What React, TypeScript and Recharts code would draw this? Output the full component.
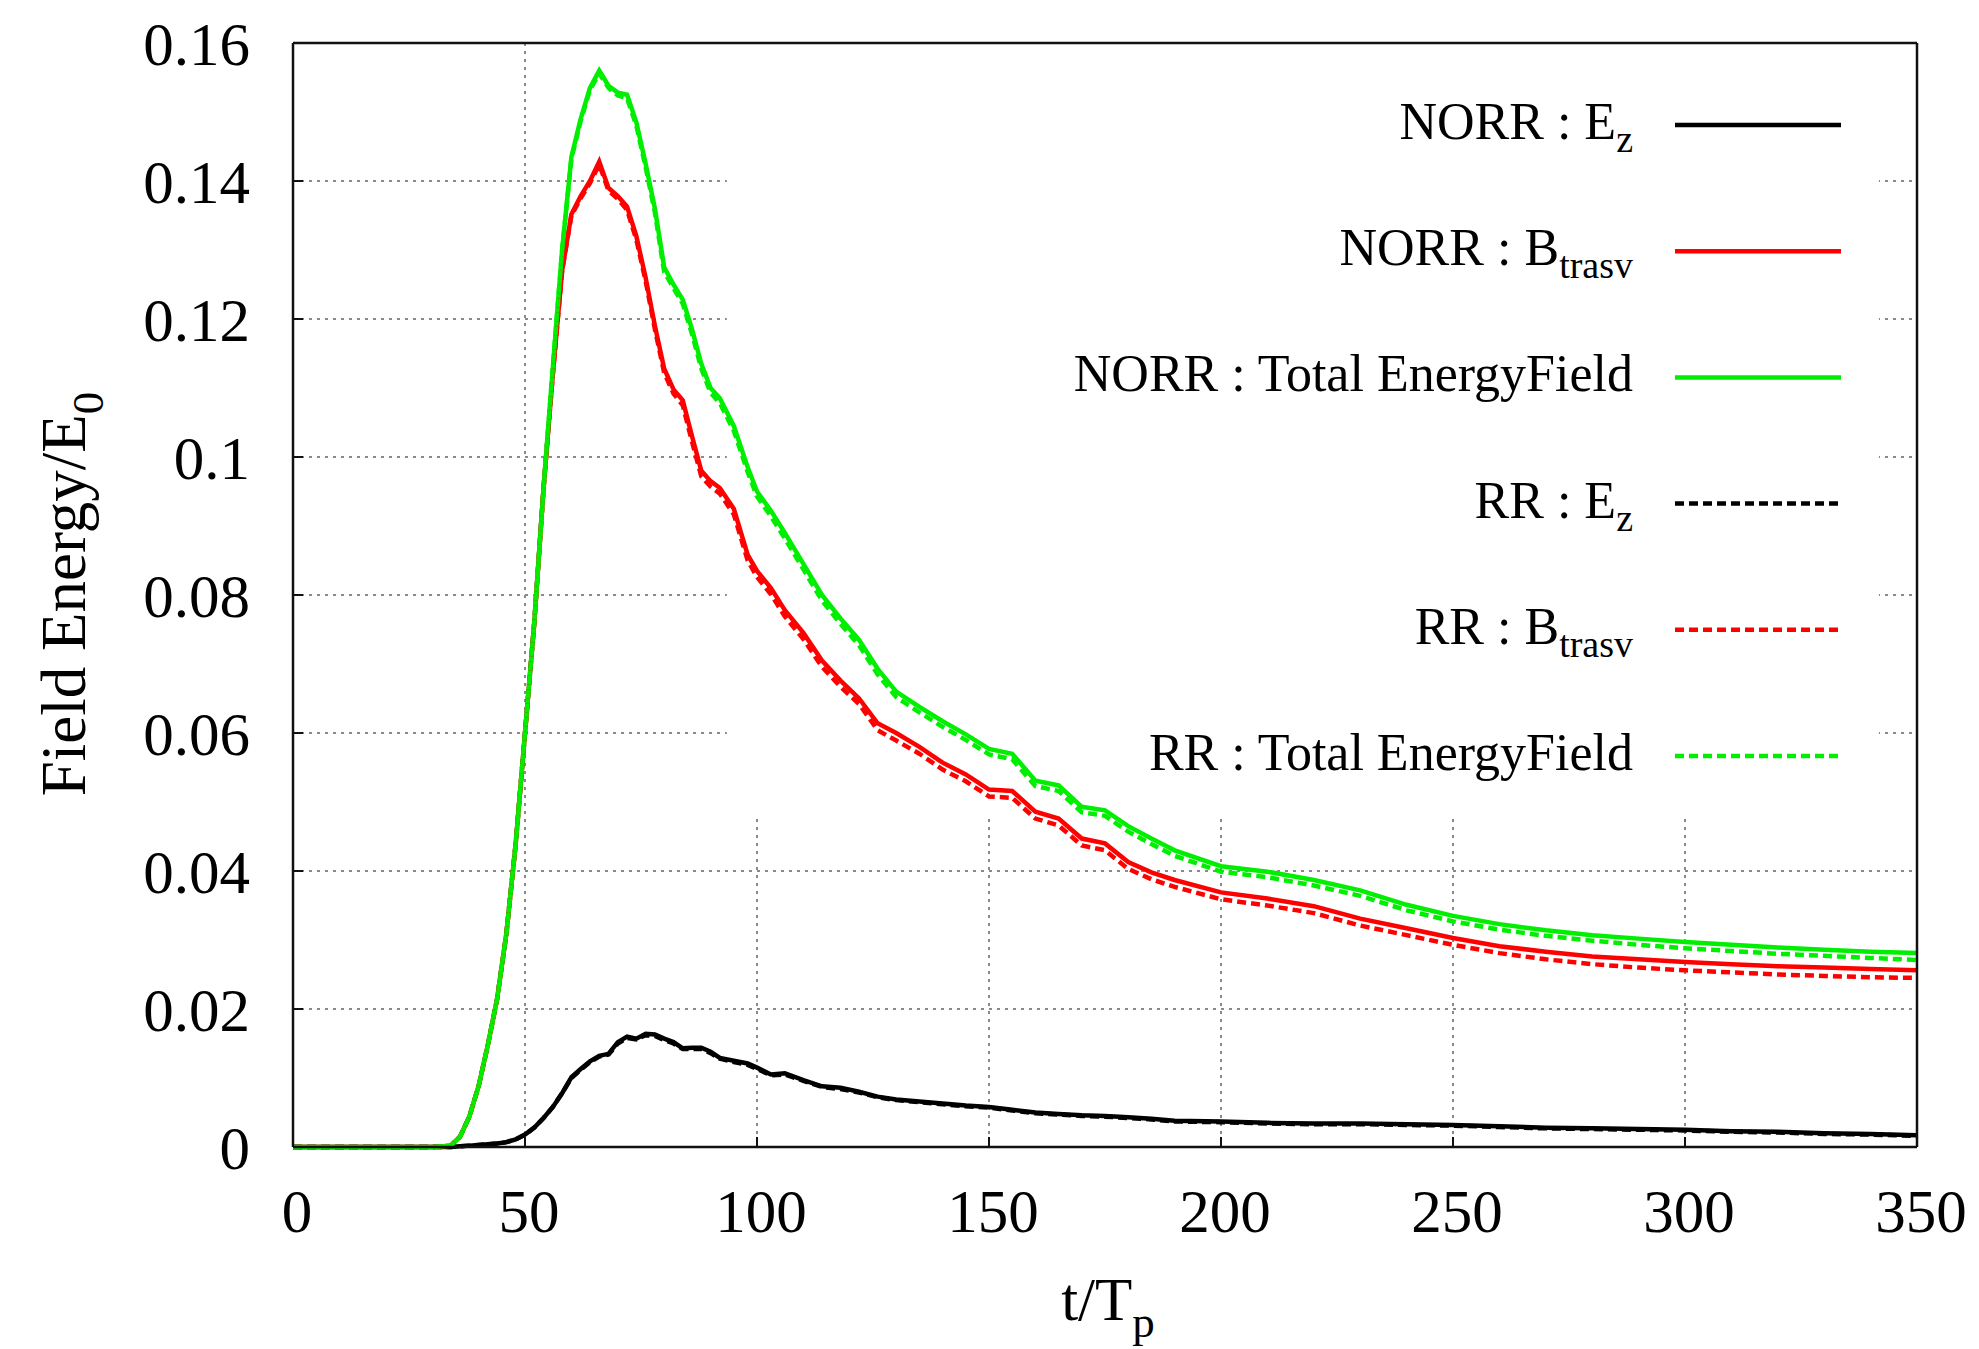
import React from "react";
import {
  CartesianGrid,
  Legend,
  Line,
  LineChart,
  ReferenceArea,
  XAxis,
  YAxis,
} from "recharts";

const FONT = "'Liberation Serif', 'DejaVu Serif', serif";

// t/Tp sample positions
const T = [
  0, 30, 34, 36, 38,
  40, 42, 44, 46, 48, 50, 52, 54, 56, 58, 60, 62, 64, 66, 68, 70, 72, 74, 76, 78, 80, 82, 84, 86, 88, 90, 92,
  95, 98, 100, 103, 106, 110, 114, 118, 122, 126, 130,
  135, 140, 145, 150, 155, 160, 165, 170, 175, 180, 185, 190,
  200, 210, 220, 230, 240, 250, 260, 270, 280, 290, 300, 310, 320, 330, 340, 350,
];

const EZ_NORR = [
  0, 0, 0, 0.0001, 0.0002,
  0.0003, 0.0004, 0.0005, 0.0007, 0.0011, 0.0018, 0.0028, 0.0042, 0.0058, 0.0078, 0.0101, 0.0113, 0.0124, 0.0132, 0.0135, 0.0152, 0.016, 0.0157, 0.0164, 0.0163, 0.0157, 0.0152, 0.0143, 0.0144, 0.0144, 0.0138, 0.0129,
  0.0125, 0.0121, 0.0115, 0.0105, 0.0107, 0.0097, 0.0088, 0.0086, 0.008, 0.0073, 0.0069,
  0.0066, 0.0063, 0.006, 0.0058, 0.0054, 0.005, 0.0048, 0.0046, 0.0045, 0.0043, 0.0041, 0.0038,
  0.0037, 0.0035, 0.0034, 0.0034, 0.0033, 0.0032, 0.003, 0.0028, 0.0027, 0.0026, 0.0025, 0.0023, 0.0022, 0.002, 0.0019, 0.0017,
];

const B_NORR = [
  0, 0, 0.0002, 0.0015, 0.0044,
  0.0088, 0.0148, 0.0215, 0.031, 0.044, 0.06, 0.076, 0.0955, 0.112, 0.127, 0.1352, 0.1378, 0.14, 0.1428, 0.139, 0.1378, 0.1363, 0.132, 0.126, 0.119, 0.1128, 0.1098, 0.1082, 0.103, 0.098, 0.0965, 0.0955,
  0.0925, 0.0858, 0.0835, 0.081, 0.0778, 0.0745, 0.0705, 0.0676, 0.065, 0.0614, 0.06,
  0.058, 0.0557, 0.054, 0.0518, 0.0516, 0.0486, 0.0476, 0.0447, 0.044, 0.0413, 0.0398, 0.0387,
  0.0369, 0.036, 0.0349, 0.0331, 0.0317, 0.0303, 0.0291, 0.0283, 0.0276, 0.0272, 0.0268, 0.0265, 0.0262, 0.026, 0.0258, 0.0256,
];

const TOT_NORR = [
  0, 0, 0.0002, 0.0015, 0.0044,
  0.0088, 0.0148, 0.0215, 0.031, 0.044, 0.06, 0.076, 0.0955, 0.113, 0.13, 0.1435, 0.149, 0.1535, 0.156, 0.1538, 0.1528, 0.1525, 0.1485, 0.1425, 0.136, 0.1275, 0.125, 0.1228, 0.1185, 0.1135, 0.11, 0.1085,
  0.1045, 0.0985, 0.095, 0.0922, 0.089, 0.0845, 0.08, 0.0766, 0.0735, 0.0693, 0.066,
  0.0638, 0.0617, 0.0598, 0.0577, 0.057, 0.0531, 0.0524, 0.0493, 0.0488, 0.0465, 0.0447, 0.043,
  0.0407, 0.0399, 0.0387, 0.0372, 0.0351, 0.0335, 0.0323, 0.0314, 0.0307, 0.0302, 0.0297, 0.0293, 0.0289, 0.0286, 0.0283, 0.0281,
];

const EZ_RR = [
  0, 0, 0, 0.0001, 0.0002,
  0.0003, 0.0004, 0.0005, 0.0007, 0.0011, 0.0018, 0.0028, 0.0042, 0.0058, 0.0078, 0.01, 0.0112, 0.0123, 0.0131, 0.0134, 0.015, 0.0158, 0.0156, 0.0162, 0.0161, 0.0155, 0.015, 0.0142, 0.0142, 0.0142, 0.0136, 0.0128,
  0.0123, 0.0119, 0.0113, 0.0104, 0.0105, 0.0096, 0.0087, 0.0084, 0.0079, 0.0072, 0.0068,
  0.0065, 0.0062, 0.0059, 0.0057, 0.0053, 0.0049, 0.0047, 0.0045, 0.0044, 0.0042, 0.004, 0.0037,
  0.0036, 0.0034, 0.0033, 0.0033, 0.0032, 0.0031, 0.0029, 0.0027, 0.0026, 0.0025, 0.0024, 0.0022, 0.0021, 0.0019, 0.0018, 0.0016,
];

const B_RR = [
  0, 0, 0.0002, 0.0015, 0.0044,
  0.0088, 0.0148, 0.0215, 0.031, 0.044, 0.06, 0.076, 0.0955, 0.112, 0.127, 0.135, 0.1375, 0.1397, 0.1424, 0.1386, 0.1374, 0.1358, 0.1315, 0.1255, 0.1185, 0.1122, 0.1092, 0.1075, 0.1022, 0.0972, 0.0957, 0.0947,
  0.0917, 0.085, 0.0826, 0.0801, 0.0769, 0.0736, 0.0696, 0.0667, 0.0642, 0.0604, 0.0589,
  0.057, 0.0547, 0.053, 0.0508, 0.0506, 0.0476, 0.0466, 0.0437, 0.043, 0.0403, 0.0388, 0.0377,
  0.0359, 0.035, 0.0339, 0.0321, 0.0307, 0.0293, 0.0281, 0.0272, 0.0265, 0.026, 0.0256, 0.0253, 0.025, 0.0248, 0.0246, 0.0245,
];

const TOT_RR = [
  0, 0, 0.0002, 0.0015, 0.0044,
  0.0088, 0.0148, 0.0215, 0.031, 0.044, 0.06, 0.076, 0.0955, 0.113, 0.13, 0.1432, 0.1487, 0.1532, 0.1556, 0.1535, 0.1524, 0.152, 0.148, 0.142, 0.1354, 0.1268, 0.1245, 0.1222, 0.1178, 0.1128, 0.1093, 0.1078,
  0.1038, 0.0978, 0.0943, 0.0914, 0.0882, 0.0837, 0.0792, 0.0758, 0.0727, 0.0685, 0.0652,
  0.063, 0.0609, 0.059, 0.0569, 0.0562, 0.0523, 0.0516, 0.0485, 0.048, 0.0457, 0.0439, 0.0422,
  0.0399, 0.0391, 0.0379, 0.0364, 0.0343, 0.0327, 0.0315, 0.0306, 0.0299, 0.0293, 0.0288, 0.0284, 0.028, 0.0277, 0.0274, 0.0271,
];

const X_TICKS = [0, 50, 100, 150, 200, 250, 300, 350];
const Y_TICKS = [0, 0.02, 0.04, 0.06, 0.08, 0.1, 0.12, 0.14, 0.16];

const RED = "#ff0000";
const GREEN = "#00ee00";
const BLACK = "#000000";
const DASH = "9 5";

// gnuplot-style key: label, subscript, colour, dashed
const SERIES = [
  { key: "ezN", name: "NORR : E", sub: "z", color: BLACK, dashed: false },
  { key: "bN", name: "NORR : B", sub: "trasv", color: RED, dashed: false },
  { key: "totN", name: "NORR : Total EnergyField", sub: "", color: GREEN, dashed: false },
  { key: "ezR", name: "RR : E", sub: "z", color: BLACK, dashed: true },
  { key: "bR", name: "RR : B", sub: "trasv", color: RED, dashed: true },
  { key: "totR", name: "RR : Total EnergyField", sub: "", color: GREEN, dashed: true },
];

const rows = T.map((t, i) => ({
  t,
  ezN: EZ_NORR[i],
  bN: B_NORR[i],
  totN: TOT_NORR[i],
  ezR: EZ_RR[i],
  bR: B_RR[i],
  totR: TOT_RR[i],
}));

const W = 1979;
const H = 1349;

function KeyBox() {
  return (
    <svg width={W} height={H} style={{ position: "absolute", left: 0, top: 0 }}>
      {SERIES.map((s, i) => {
        const y = 125 + i * 126.2;
        return (
          <g key={s.key}>
            <text x={1633} y={y + 14} textAnchor="end" fontSize={52} fontFamily={FONT} fill="#000">
              {s.name}
              {s.sub ? (
                <tspan fontSize={38} dy={13}>
                  {s.sub}
                </tspan>
              ) : null}
            </text>
            <line
              x1={1675}
              x2={1841}
              y1={y}
              y2={y}
              stroke={s.color}
              strokeWidth={4.5}
              strokeDasharray={s.dashed ? DASH : undefined}
            />
          </g>
        );
      })}
    </svg>
  );
}

function XTitle(props: any) {
  const vb = props.viewBox;
  return (
    <text
      x={vb.x + vb.width / 2 + 3}
      y={1320}
      textAnchor="middle"
      fontSize={61}
      fontFamily={FONT}
      fill="#000"
    >
      t/T
      <tspan fontSize={45} dy={17}>
        p
      </tspan>
    </text>
  );
}

function YTitle() {
  const cx = 85;
  const cy = 594;
  return (
    <text
      x={cx}
      y={cy}
      textAnchor="middle"
      fontSize={63}
      fontFamily={FONT}
      fill="#000"
      transform={`rotate(-90, ${cx}, ${cy})`}
    >
      Field Energy/E
      <tspan fontSize={45} dy={18}>
        0
      </tspan>
    </text>
  );
}

export default function App() {
  const tickStyle = { fontSize: 61, fill: "#000", fontFamily: FONT };
  const border = { stroke: "#111", strokeWidth: 2.5 };
  return (
    <div style={{ position: "absolute", left: 0, top: 0, width: W, height: H, background: "#fff" }}>
      <LineChart
        width={W}
        height={H}
        data={rows}
        margin={{ top: 42, right: 61, bottom: 0, left: 0 }}
        style={{ fontFamily: FONT }}
      >
        <CartesianGrid stroke="#8a8a8a" strokeWidth={2} strokeDasharray="3 5" />
        {/* opaque key box hides the grid behind it */}
        <ReferenceArea x1={93.5} x2={341.8} y1={0.0478} y2={0.16} fill="#fff" fillOpacity={1} stroke="none" />
        <XAxis
          dataKey="t"
          type="number"
          domain={[0, 350]}
          ticks={X_TICKS}
          height={202}
          axisLine={border}
          tickLine={{ stroke: "#111", strokeWidth: 2 }}
          tickSize={-10}
          tickMargin={52}
          tick={{ ...tickStyle, dx: 4 }}
          label={XTitle}
        />
        <XAxis
          xAxisId="top"
          orientation="top"
          type="number"
          domain={[0, 350]}
          ticks={X_TICKS}
          height={1}
          axisLine={border}
          tickLine={{ stroke: "#111", strokeWidth: 2 }}
          tickSize={-10}
          tick={false}
        />
        <YAxis
          type="number"
          domain={[0, 0.16]}
          ticks={Y_TICKS}
          width={293}
          axisLine={border}
          tickLine={{ stroke: "#111", strokeWidth: 2 }}
          tickSize={-10}
          tickMargin={53}
          tick={tickStyle}
          label={YTitle}
        />
        <YAxis
          yAxisId="right"
          orientation="right"
          type="number"
          domain={[0, 0.16]}
          ticks={Y_TICKS}
          width={1}
          axisLine={border}
          tickLine={{ stroke: "#111", strokeWidth: 2 }}
          tickSize={-10}
          tick={false}
        />
        {SERIES.map((s) => (
          <Line
            key={s.key}
            type="linear"
            dataKey={s.key}
            stroke={s.color}
            strokeWidth={4.5}
            strokeDasharray={s.dashed ? DASH : undefined}
            dot={false}
            isAnimationActive={false}
          />
        ))}
        <Legend
          layout="vertical"
          align="center"
          verticalAlign="middle"
          content={() => <KeyBox />}
          wrapperStyle={{ position: "absolute", left: 0, top: 0, width: W, height: H, pointerEvents: "none" }}
        />
      </LineChart>
    </div>
  );
}
